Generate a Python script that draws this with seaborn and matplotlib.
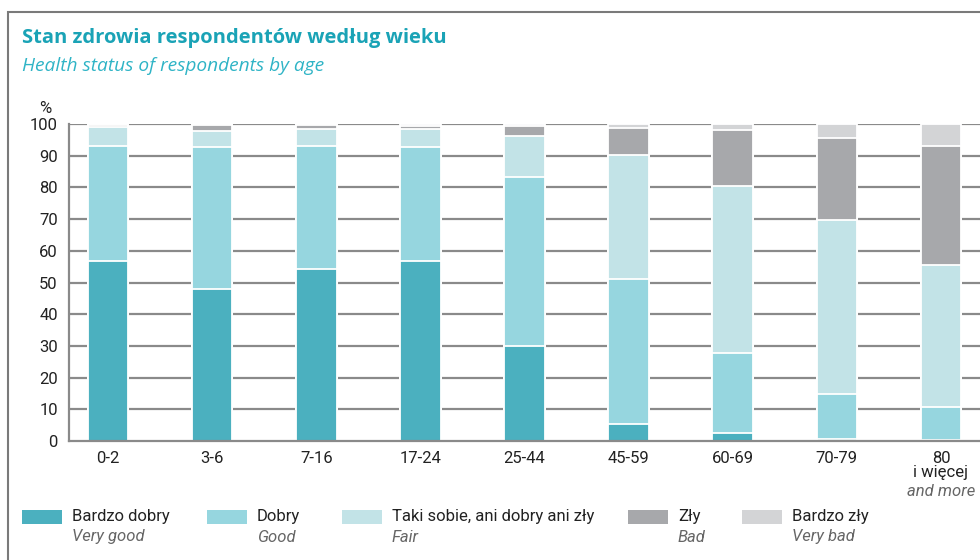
import numpy as np
import pandas as pd
import matplotlib
matplotlib.use("Agg")
import matplotlib.pyplot as plt
from matplotlib.patches import Rectangle
import seaborn as sns

# ── Data (% of respondents) ───────────────────────────────────
age_groups = ["0-2", "3-6", "7-16", "17-24", "25-44", "45-59", "60-69", "70-79", "80\ni więcej"]
very_good = [56.8, 47.9, 54.2, 56.8, 30.0, 5.3, 2.4, 0.7, 0.4]
good      = [36.3, 44.9, 38.9, 35.8, 53.4, 45.8, 25.4, 14.0, 10.4]
fair      = [6.1, 4.9, 5.4, 5.8, 12.7, 39.2, 52.5, 54.9, 44.6]
bad       = [0.5, 2.1, 1.3, 1.1, 3.2, 8.4, 17.7, 26.1, 37.7]
very_bad  = [0.3, 0.2, 0.2, 0.5, 0.7, 1.3, 2.0, 4.3, 6.9]

labels_pl = ["Bardzo dobry", "Dobry", "Taki sobie, ani dobry ani zły", "Zły", "Bardzo zły"]
labels_en = ["Very good", "Good", "Fair", "Bad", "Very bad"]
colors    = ["#4BB0BF", "#96D6DF", "#C2E3E7", "#A7A8AB", "#D3D4D6"]

yticks = list(range(0, 101, 10))

# ── Style ─────────────────────────────────────────────────────
sns.set_style("white")
plt.rcParams["font.family"] = ["Roboto", "DejaVu Sans"]

df = pd.DataFrame({"age": age_groups, "vg": very_good, "g": good,
                   "f": fair, "b": bad, "vb": very_bad})
layers = ["vg", "g", "f", "b", "vb"]
cum = df[layers].cumsum(axis=1)

fig = plt.figure(figsize=(9.8, 5.6), dpi=100)
ax = fig.add_axes([0.0704, 0.2125, 0.9296, 0.566])

# grid drawn behind the bars
for v in yticks[1:]:
    ax.axhline(v, color="#8A8A8A", lw=1.6, zorder=0)

# stacked bars: draw cumulative totals from top layer down
for key, col in reversed(list(zip(layers, colors))):
    sns.barplot(x=df["age"], y=cum[key], color=col, saturation=1,
                width=0.39, edgecolor="white", linewidth=1.3,
                errorbar=None, ax=ax, zorder=2)

ax.set_xlim(-0.375, 8.375)
ax.set_ylim(0, 100)
ax.set_yticks(yticks)
ax.set_yticklabels([str(v) for v in yticks], fontsize=12, color="#222222")
ax.set_xlabel("")
ax.set_ylabel("")
ax.set_xticks(range(len(age_groups)))
ax.set_xticklabels(age_groups, fontsize=12, color="#222222", linespacing=0.95)
ax.set_xticks(np.arange(0.5, len(age_groups) - 0.5, 1), minor=True)
ax.tick_params(axis="x", which="major", length=0, pad=7)
ax.tick_params(axis="x", which="minor", length=5, width=1.2, color="#8A8A8A", direction="out")
ax.tick_params(axis="y", length=0, pad=8)

for s in ["top", "right"]:
    ax.spines[s].set_visible(False)
for s in ["left", "bottom"]:
    ax.spines[s].set_color("#8A8A8A")
    ax.spines[s].set_linewidth(1.6)

ax.text(-0.026, 1.025, "%", transform=ax.transAxes, fontsize=12,
        color="#222222", ha="center", va="bottom")
ax.text(8, -0.135, "and more", transform=ax.get_xaxis_transform(),
        fontsize=12, style="italic", color="#666666", ha="center", va="top")

# ── Titles ────────────────────────────────────────────────────
fig.text(22 / 980, 1 - 38 / 560, "Stan zdrowia respondentów według wieku",
         fontsize=14.5, fontweight="bold", color="#1AA3B6", family="Open Sans", va="center")
fig.text(22 / 980, 1 - 66 / 560, "Health status of respondents by age",
         fontsize=13.8, style="italic", color="#2FB4C6", family="Open Sans", va="center")

# ── Legend ────────────────────────────────────────────────────
patch_x = [22, 207, 342, 628, 742]
for px, col, pl, en in zip(patch_x, colors, labels_pl, labels_en):
    fig.add_artist(Rectangle((px / 980, 1 - 524 / 560), 40 / 980, 14 / 560,
                             transform=fig.transFigure, facecolor=col, edgecolor="none"))
    fig.text((px + 50) / 980, 1 - 517 / 560, pl, fontsize=12, color="#222222", va="center")
    fig.text((px + 50) / 980, 1 - 537 / 560, en, fontsize=12, style="italic",
             color="#666666", va="center")

# outer frame
fig.add_artist(Rectangle((8 / 980, -0.1), 1.2, 1 - 12 / 560 + 0.1, transform=fig.transFigure,
                         facecolor="none", edgecolor="#7A7A7A", lw=1.5))

fig.savefig("out.png", dpi=100)
